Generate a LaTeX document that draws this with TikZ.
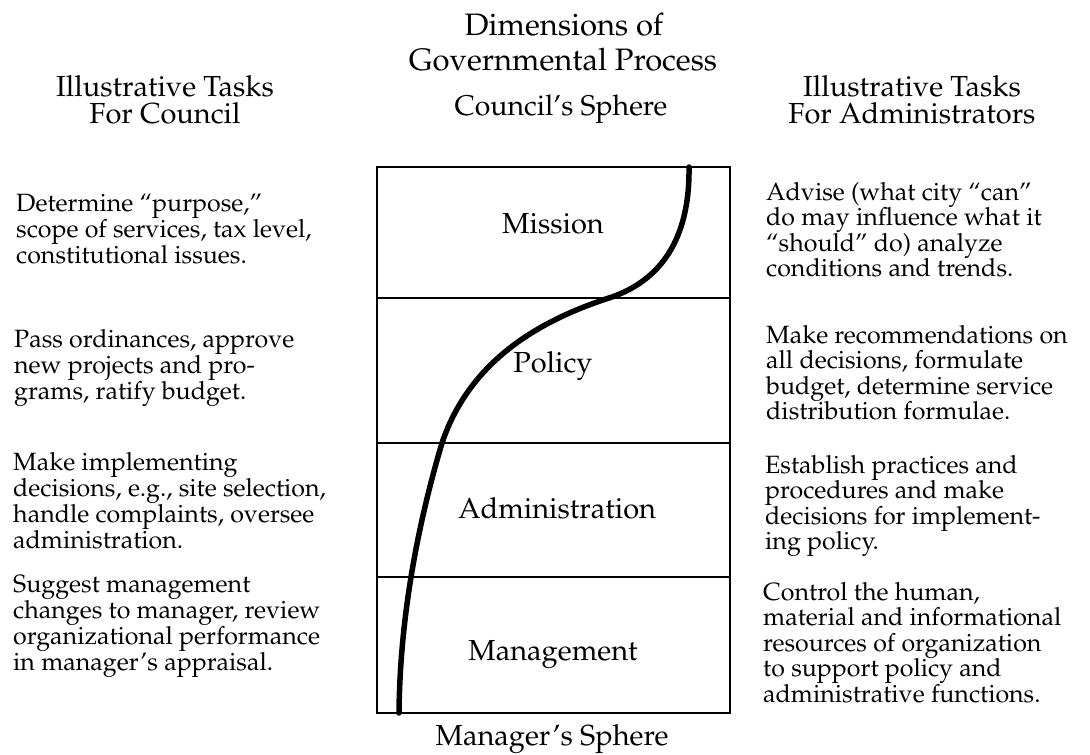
\documentclass[tikz,border=0pt]{standalone}
\usepackage[T1]{fontenc}
\usepackage{mathpazo}
\begin{document}
\begin{tikzpicture}[x=1pt,y=-1pt,
  task/.style={anchor=north west,inner sep=0pt,align=left,
    font=\fontsize{25}{26}\selectfont},
  rtask/.style={task,font=\fontsize{25}{25.5}\selectfont},
  head/.style={inner sep=0pt,align=center,anchor=base,
    font=\fontsize{29}{27}\selectfont},
  title/.style={inner sep=0pt,anchor=base,font=\fontsize{31}{35}\selectfont},
  level/.style={inner sep=0pt,anchor=base,font=\fontsize{29}{31}\selectfont},
  frame/.style={line width=1.8pt},
  sphere/.style={line width=5.5pt,line cap=round}]
\useasboundingbox (0,0) rectangle (1090,755);

% column headings (a two-line node sits on the baseline of its last line)
\node[title] (title1) at (564,35) {Dimensions of};
\node[title] (title2) at (563,70) {Governmental Process};
\node[title,font=\fontsize{28.5}{31}\selectfont] (council) at (561,115) {Council's Sphere};
\node[head] (lhead) at (165,123) {Illustrative Tasks\\For Council};
\node[head] (rhead) at (912,123) {Illustrative Tasks\\For Administrators};
\node[level] (manager) at (552,745) {Manager's Sphere};

% the four levels
\coordinate (tl) at (377,167);
\coordinate (br) at (730,713);
\draw[frame] (tl) rectangle (br);
\coordinate (d1l) at (377,298); \coordinate (d1r) at (730,298);
\coordinate (d2l) at (377,443); \coordinate (d2r) at (730,443);
\coordinate (d3l) at (377,577); \coordinate (d3r) at (730,577);
\draw[frame] (d1l) -- (d1r) (d2l) -- (d2r) (d3l) -- (d3r);

\node[level] (mission) at (553,233) {Mission};
\node[level] (policy) at (553,372) {Policy};
\node[level] (admin) at (557,518) {Administration};
\node[level] (mgmt) at (553,660) {Management};

% boundary between council and manager spheres
\coordinate (c0) at (689,167);
\coordinate (c1) at (612,297);
\coordinate (c2) at (442,443);
\coordinate (c3) at (399,713);
\draw[sphere] (c0) .. controls (690,240) and (660,280) .. (c1)
  .. controls (540,320) and (470,360) .. (c2)
  .. controls (425,500) and (400,600) .. (c3);

% council tasks
\node[task] (ct1) at (16,194) {Determine ``purpose,''\\scope of services, tax level,\\constitutional issues.};
\node[task] (ct2) at (14,329) {Pass ordinances, approve\\new projects and pro-\\grams, ratify budget.};
\node[task] (ct3) at (13,452) {Make implementing\\decisions, e.g., site selection,\\handle complaints, oversee\\administration.};
\node[task] (ct4) at (13,575) {Suggest management\\changes to manager, review\\organizational performance\\in manager's appraisal.};

% administrator tasks
\node[rtask] (at1) at (766,182) {Advise (what city ``can''\\do may influence what it\\``should'' do) analyze\\conditions and trends.};
\node[rtask] (at2) at (766,325) {Make recommendations on\\all decisions, formulate\\budget, determine service\\distribution formulae.};
\node[rtask] (at3) at (765,455) {Establish practices and\\procedures and make\\decisions for implement-\\ing policy.};
\node[rtask] (at4) at (763,582) {Control the human,\\material and informational\\resources of organization\\to support policy and\\administrative functions.};
\end{tikzpicture}
\end{document}
